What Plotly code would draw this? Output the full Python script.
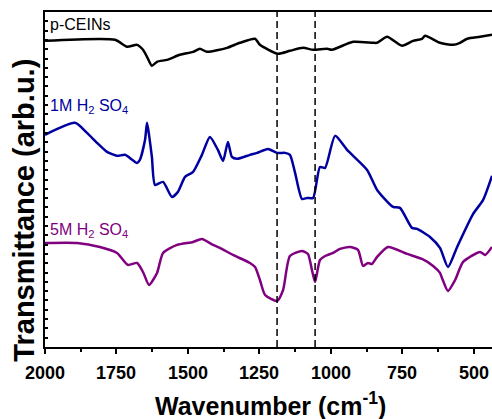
import plotly.graph_objects as go

# p-CEINs
wn_p = [2000, 1755, 1713, 1678, 1657, 1643, 1626, 1608, 1573, 1528, 1482, 1458, 1433, 1363, 1318,
        1265, 1248, 1185, 1143, 1097, 1062, 1013, 996, 922, 852, 838, 803, 751, 712, 681, 670,
        618, 572, 548, 523, 478, 436]
tr_p = [32.90, 33.01, 32.26, 32.47, 31.94, 31.18, 30.22, 30.65, 30.86, 31.40, 31.72, 32.04, 31.72,
        32.15, 32.69, 33.12, 32.47, 31.51, 31.83, 32.15, 31.94, 32.04, 31.94, 32.80, 32.69, 32.69,
        33.33, 32.37, 32.90, 33.12, 33.44, 32.69, 32.47, 32.69, 33.12, 33.33, 33.55]

# 1M H2SO4
wn_1 = [2000, 1895, 1853, 1818, 1783, 1748, 1720, 1678, 1668, 1650, 1643, 1636, 1626, 1615, 1587,
        1556, 1535, 1510, 1482, 1451, 1423, 1395, 1377, 1360, 1346, 1328, 1283, 1258, 1220, 1188,
        1160, 1143, 1125, 1101, 1083, 1062, 1038, 1020, 985, 943, 873, 838, 782, 758, 716, 698,
        653, 618, 590, 558, 502, 467, 436]
tr_1 = [22.80, 24.09, 23.01, 21.94, 20.97, 20.54, 20.65, 19.78, 20.11, 22.26, 24.09, 22.80, 20.43,
        17.42, 17.74, 16.13, 16.67, 18.28, 18.82, 20.65, 22.58, 21.18, 20.00, 22.04, 20.43, 20.22,
        20.65, 20.86, 21.29, 20.86, 20.86, 20.65, 18.71, 15.91, 16.02, 16.02, 19.35, 19.25, 22.69,
        21.18, 19.03, 16.88, 15.05, 14.95, 12.80, 12.69, 11.83, 10.65, 8.60, 10.75, 14.30, 15.81,
        18.39]

# 5M H2SO4
wn_5 = [2000, 1888, 1808, 1748, 1710, 1678, 1657, 1636, 1608, 1587, 1538, 1482, 1451, 1412, 1388,
        1342, 1283, 1265, 1248, 1230, 1188, 1167, 1143, 1101, 1080, 1066, 1055, 1038, 1020, 992,
        968, 933, 905, 887, 870, 856, 838, 800, 733, 681, 642, 618, 611, 590, 565, 537, 478, 460,
        436]
tr_5 = [11.18, 11.18, 10.75, 10.11, 8.82, 9.03, 8.06, 6.67, 7.96, 10.11, 10.97, 11.29, 11.61,
        10.97, 10.65, 9.89, 9.03, 8.60, 7.20, 5.59, 4.95, 6.13, 9.78, 10.32, 10.00, 8.28, 6.99,
        9.35, 9.78, 10.11, 10.54, 10.75, 10.43, 8.71, 9.03, 8.92, 9.68, 10.75, 10.00, 9.46, 8.71,
        7.96, 7.42, 6.02, 7.20, 9.14, 10.22, 9.89, 10.75]

markers = [1188, 1055]
x_ticks = [2000, 1750, 1500, 1250, 1000, 750, 500]
x_tick_text = ["2000", "1750", "1500", "1250", "1000", "750", "500"]

FONT = "Liberation Sans, Arial"

fig = go.Figure()
series = [(wn_p, tr_p, "black"), (wn_1, tr_1, "#0000A0"), (wn_5, tr_5, "#800080")]
for xs, ys, c in series:
    fig.add_trace(go.Scatter(x=xs, y=ys, mode="lines",
                             line=dict(color=c, width=2.5, shape="spline", smoothing=0.6),
                             showlegend=False))

for m in markers:
    fig.add_shape(type="line", x0=m, x1=m, y0=0, y1=1, xref="x", yref="paper",
                  line=dict(color="black", width=1.5, dash="7px,4px"))

labels = [("p-CEINs", 34.7, "black"),
          ("1M H<sub>2</sub> SO<sub>4</sub>", 25.8, "#0000A0"),
          ("5M H<sub>2</sub> SO<sub>4</sub>", 12.5, "#800080")]
for t, yv, c in labels:
    fig.add_annotation(x=1991, y=yv, text=t, showarrow=False, xanchor="left", yanchor="middle",
                       font=dict(family=FONT, size=16, color=c))

# bold tick labels placed at the x-axis tick values
for v, t in zip(x_ticks, x_tick_text):
    fig.add_annotation(x=v, y=0, xref="x", yref="paper", text="<b>%s</b>" % t, showarrow=False,
                       xanchor="center", yanchor="middle", yshift=-26,
                       font=dict(family=FONT, size=18, color="black"))

# axis titles
fig.add_annotation(x=0.505, y=0, xref="paper", yref="paper", text="<b>Wavenumber (cm<sup>-1</sup>)</b>",
                   showarrow=False, xanchor="center", yanchor="middle", yshift=-57,
                   font=dict(family=FONT, size=25, color="black"))
fig.add_annotation(x=-0.047, y=0.41, xref="paper", yref="paper", text="<b>Transmittance (arb.u.)</b>",
                   textangle=-90, showarrow=False, xanchor="center", yanchor="middle",
                   font=dict(family=FONT, size=29, color="black"))

fig.update_layout(
    width=492, height=419,
    margin=dict(l=45, r=0, t=12, b=72),
    plot_bgcolor="white", paper_bgcolor="white",
    font=dict(family=FONT, color="black"),
)
fig.update_xaxes(range=[2000, 436], tickmode="array", tickvals=x_ticks, showticklabels=False,
                 ticks="outside", ticklen=5, tickwidth=2, tickcolor="black",
                 showline=True, linewidth=2, linecolor="black", mirror=True, showgrid=False,
                 zeroline=False,
                 minor=dict(dtick=125, ticks="outside", ticklen=3, tickwidth=1.5, tickcolor="black"))
fig.update_yaxes(range=[0, 36], dtick=1, ticks="inside", ticklen=3, tickwidth=1.5, tickcolor="black",
                 showticklabels=False,
                 showline=True, linewidth=2, linecolor="black", showgrid=False, zeroline=False)

fig.write_html("out.html")
